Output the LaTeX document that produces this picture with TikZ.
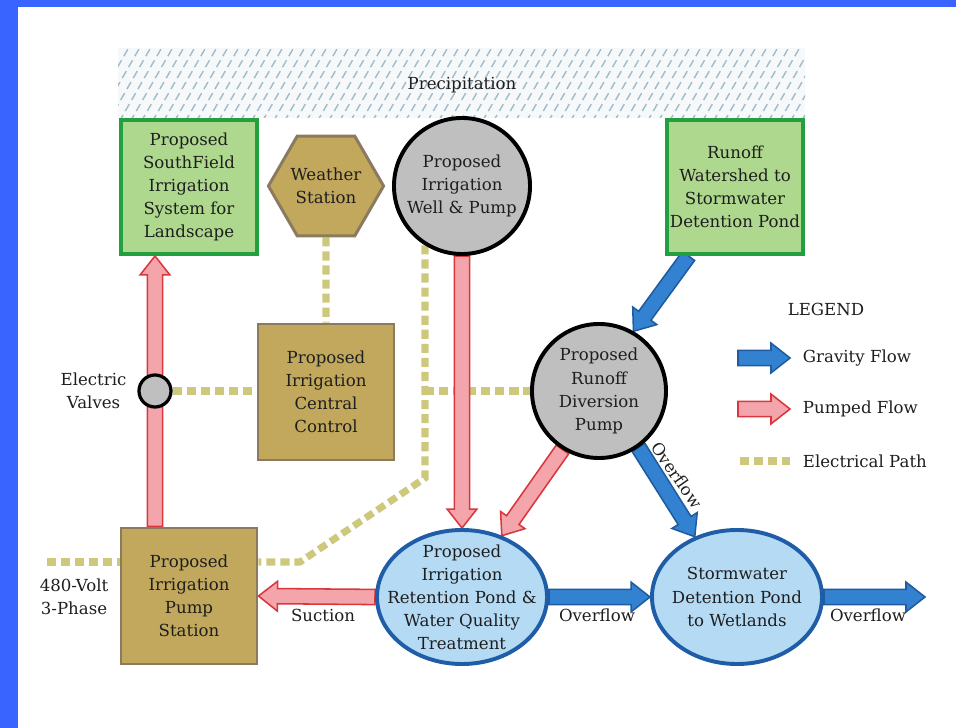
\documentclass[tikz,border=0pt]{standalone}
\usepackage{fontspec}
\setmainfont{DejaVu Serif}
\usepackage{tikz}
\usetikzlibrary{positioning,calc,shapes.geometric,backgrounds}
\definecolor{frameblue}{HTML}{3A64FF}
\definecolor{ink}{HTML}{1E1E1E}
\definecolor{leafL}{HTML}{AED88E}
\definecolor{leafD}{HTML}{22A03F}
\definecolor{ochreL}{HTML}{C1A85C}
\definecolor{ochreD}{HTML}{8B7A5D}
\definecolor{stone}{HTML}{BFBFBF}
\definecolor{pondL}{HTML}{B5DAF4}
\definecolor{pondD}{HTML}{1F5DA6}
\definecolor{pumpL}{HTML}{F4A5AC}
\definecolor{pumpD}{HTML}{D8383C}
\definecolor{gravL}{HTML}{3382D2}
\definecolor{gravD}{HTML}{1F5B9E}
\definecolor{wire}{HTML}{CEC87C}
\definecolor{rain}{HTML}{9DBDCC}
\definecolor{mist}{HTML}{F6F8F9}
% block arrow from #2 to #3, style #1
\newcommand{\fatarrow}[3]{%
  \path[#1] let \p1=#2, \p2=#3, \n1={atan2(\y2-\y1,\x2-\x1)},
                \n2={veclen(\x2-\x1,\y2-\y1)-13.5pt} in
    ($(\p1)+({\n1+90}:5.4pt)$) -- ($(\p1)+({\n1+0}:{\n2})+({\n1+90}:5.4pt)$)
    -- ($(\p1)+({\n1+0}:{\n2})+({\n1+90}:10.6pt)$) -- (\p2)
    -- ($(\p1)+({\n1+0}:{\n2})+({\n1-90}:10.6pt)$)
    -- ($(\p1)+({\n1+0}:{\n2})+({\n1-90}:5.4pt)$)
    -- ($(\p1)+({\n1-90}:5.4pt)$) -- cycle;}
\tikzset{
  txt/.style={font=\fontsize{11.8}{16.4}\selectfont, text=ink, align=center},
  fieldbox/.style={txt, rectangle, draw=leafD, fill=leafL, line width=2.8pt,
                   minimum width=3.4cm, minimum height=3.35cm, inner sep=0pt},
  ctrlbox/.style={txt, rectangle, draw=ochreD, fill=ochreL, line width=2.1pt,
                  minimum width=3.4cm, minimum height=3.4cm, inner sep=0pt},
  hexnode/.style={txt, regular polygon, regular polygon sides=6, draw=ochreD,
                  fill=ochreL, line width=2.1pt, minimum size=2.75cm, inner sep=0pt},
  pumpnode/.style={txt, circle, draw=black, fill=stone, line width=2.8pt,
                   minimum size=3.4cm, inner sep=0pt},
  valvenode/.style={circle, draw=black, fill=stone, line width=2.3pt,
                    minimum size=0.8cm, inner sep=0pt},
  pond/.style={txt, ellipse, draw=pondD, fill=pondL, line width=2.8pt,
               minimum width=4.25cm, minimum height=3.35cm,
               inner xsep=-16pt, inner ysep=-12pt},
  pumped/.style={draw=pumpD, fill=pumpL, line width=1.1pt},
  gravity/.style={draw=gravD, fill=gravL, line width=1.1pt},
  elec/.style={draw=wire, line width=5pt, dash pattern=on 6.5pt off 3.5pt},
  raindash/.style={draw=rain, line width=1pt, dash pattern=on 5.7pt off 3.3pt},
}
\begin{document}
\begin{tikzpicture}[x=0.025cm, y=-0.025cm]
  \useasboundingbox (0,0) rectangle (956,728);
  % blue frame, top and left
  \fill[frameblue] (0,0) rectangle (956,7);
  \fill[frameblue] (0,0) rectangle (18,728);

  % precipitation band
  \fill[mist] (118,48) rectangle (805,118);
  \begin{scope}
    \clip (118,48) rectangle (805,118);
    \foreach \i in {0,...,66}
      \draw[raindash] (75+\i*11,122) -- ++(46,-80);
  \end{scope}
  \node[txt] (precip) at (462,85) {Precipitation};

  % top row
  \node[fieldbox] (field) at (189,187) {Proposed\\SouthField\\Irrigation\\System for\\Landscape};
  \node[hexnode] (weather) at (326,186) {Weather\\Station};
  \node[pumpnode] (well) at (462,186) {Proposed\\Irrigation\\Well \& Pump};
  \node[fieldbox] (runoff) at (735,187) {Runoff\\Watershed to\\Stormwater\\Detention Pond};

  % middle row
  \node[ctrlbox] (ctrl) at (326,392) {Proposed\\Irrigation\\Central\\Control};
  \node[valvenode] (valve) at (155,391) {};
  \node[txt, left=0.15cm of valve] (valvelbl) {Electric\\Valves};
  \node[pumpnode, minimum size=3.35cm] (divert) at (599,391) {Proposed\\Runoff\\Diversion\\Pump};

  % bottom row
  \node[ctrlbox] (station) at (189,596) {Proposed\\Irrigation\\Pump\\Station};
  \node[pond] (retain) at (462,597) {Proposed\\Irrigation\\Retention Pond \&\\Water Quality\\Treatment};
  \node[pond] (detain) at (737,597) {Stormwater\\Detention Pond\\to Wetlands};

  \coordinate (mains) at (47,562);
  \coordinate (kneeA) at (425,478);
  \coordinate (kneeB) at (300,562);
  \coordinate (sink) at (925,597);
  \node[txt] (voltlbl) at (74,597) {480-Volt\\3-Phase};
  \node[txt] (suclbl) at (323,615) {Suction};
  \node[txt] (ovflbl1) at (597,615) {Overflow};
  \node[txt] (ovflbl2) at (868,615) {Overflow};
  \node[txt, rotate=-55, inner sep=0pt] (ovflbl3) at (677,475) {Overflow};

  % legend
  \node[txt] (legend) at (826,309) {LEGEND};
  \coordinate (gravA) at (738,358);
  \coordinate (gravB) at (790,358);
  \coordinate (pumpA) at (738,409);
  \coordinate (pumpB) at (790,409);
  \coordinate (wireA) at (740,461);
  \coordinate (wireB) at (790,461);
  \node[txt, right=0.2cm of gravB] (lgrav) {Gravity Flow};
  \node[txt, right=0.2cm of pumpB] (lpump) {Pumped Flow};
  \node[txt, right=0.2cm of wireB] (lwire) {Electrical Path};

  \begin{scope}[on background layer]
    % electrical paths
    \draw[elec] (weather.south) -- (ctrl.north);
    \draw[elec] (valve.east) -- (valve.east -| ctrl.west);
    \draw[elec] (mains) -- (station.west |- mains);
    \draw[elec] (kneeA |- well.-122) -- (kneeA) -- (kneeB) -- (station.east |- kneeB);
    \draw[elec] (kneeA |- divert) -- (divert.west);
    % pumped flow
    \fatarrow{pumped}{(valve |- station.north)}{(valve |- field.south)}
    \fatarrow{pumped}{(well.south)}{(retain.north)}
    \fatarrow{pumped}{(divert.-122)}{(retain.57)}
    \fatarrow{pumped}{(retain.west)}{(station.east)}
    % gravity flow
    \fatarrow{gravity}{(runoff.-124)}{(divert.60)}
    \fatarrow{gravity}{(divert.-55)}{(detain.125)}
    \fatarrow{gravity}{(retain.east)}{(detain.west)}
    \fatarrow{gravity}{(detain.east)}{(sink)}
  \end{scope}
  \fatarrow{gravity}{(gravA)}{(gravB)}
  \fatarrow{pumped}{(pumpA)}{(pumpB)}
  \draw[elec] (wireA) -- (wireB);
\end{tikzpicture}
\end{document}
